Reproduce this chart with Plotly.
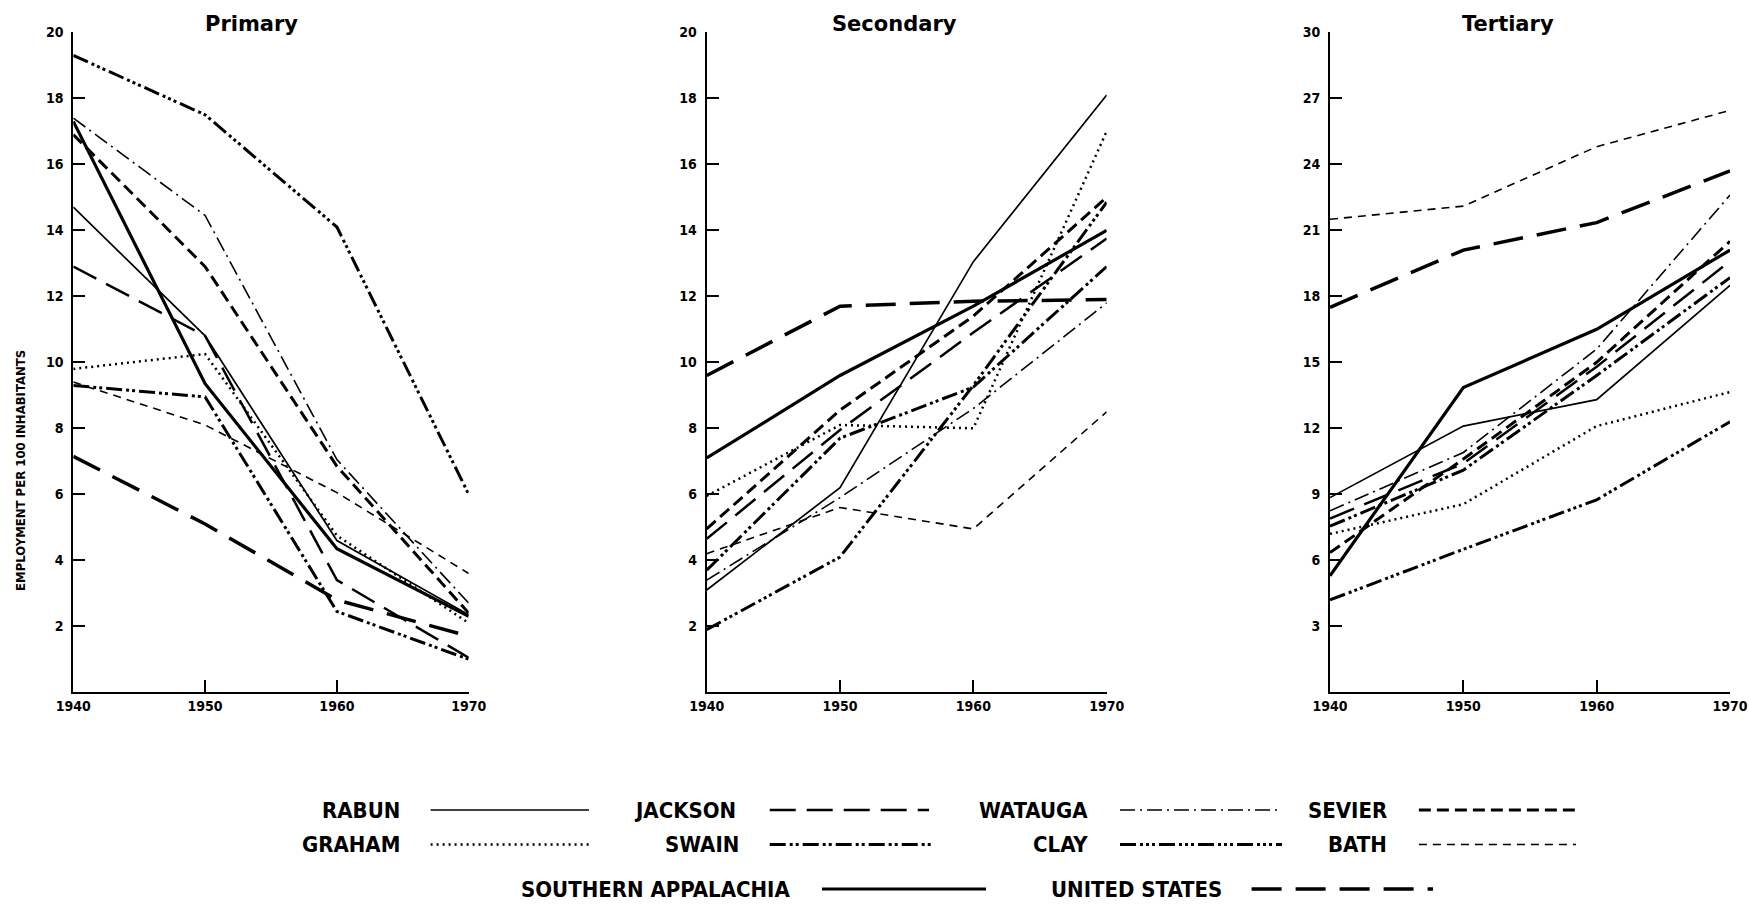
import plotly.graph_objects as go

# ---------------- data ----------------
years = [1940, 1950, 1960, 1970]
year_labels = ["1940", "1950", "1960", "1970"]

series_names = ["RABUN", "JACKSON", "WATAUGA", "SEVIER", "GRAHAM",
                "SWAIN", "CLAY", "BATH", "SOUTHERN APPALACHIA", "UNITED STATES"]

panel_titles = ["Primary", "Secondary", "Tertiary"]

# employment per 100 inhabitants, order follows series_names
primary_values = [
    [14.7, 10.8, 4.6, 2.35],    # RABUN
    [12.9, 10.8, 3.4, 1.05],    # JACKSON
    [17.4, 14.45, 7.05, 2.7],   # WATAUGA
    [16.9, 12.9, 6.85, 2.4],    # SEVIER
    [9.8, 10.25, 4.75, 2.1],    # GRAHAM
    [9.3, 8.95, 2.45, 1.0],     # SWAIN
    [19.3, 17.5, 14.1, 6.0],    # CLAY
    [9.4, 8.1, 6.05, 3.6],      # BATH
    [17.3, 9.35, 4.35, 2.3],    # SOUTHERN APPALACHIA
    [7.15, 5.1, 2.8, 1.7],      # UNITED STATES
]

secondary_values = [
    [3.1, 6.2, 13.05, 18.1],    # RABUN
    [4.65, 7.95, 10.9, 13.75],  # JACKSON
    [3.4, 5.9, 8.6, 11.8],      # WATAUGA
    [4.95, 8.55, 11.4, 15.0],   # SEVIER
    [5.95, 8.1, 8.0, 17.0],     # GRAHAM
    [3.7, 7.7, 9.25, 12.9],     # SWAIN
    [1.9, 4.1, 9.3, 14.85],     # CLAY
    [4.2, 5.6, 4.95, 8.5],      # BATH
    [7.1, 9.6, 11.7, 14.0],     # SOUTHERN APPALACHIA
    [9.6, 11.7, 11.85, 11.9],   # UNITED STATES
]

tertiary_values = [
    [8.85, 12.1, 13.3, 18.5],   # RABUN
    [7.9, 10.4, 14.8, 19.6],    # JACKSON
    [8.25, 10.9, 15.6, 22.6],   # WATAUGA
    [6.35, 10.6, 15.0, 20.5],   # SEVIER
    [7.2, 8.55, 12.1, 13.65],   # GRAHAM
    [7.55, 10.1, 14.4, 18.85],  # SWAIN
    [4.2, 6.5, 8.75, 12.3],     # CLAY
    [21.5, 22.1, 24.8, 26.45],  # BATH
    [5.3, 13.85, 16.5, 20.1],   # SOUTHERN APPALACHIA
    [17.5, 20.1, 21.35, 23.7],  # UNITED STATES
]

primary_ticks = [2, 4, 6, 8, 10, 12, 14, 16, 18, 20]
secondary_ticks = [2, 4, 6, 8, 10, 12, 14, 16, 18, 20]
tertiary_ticks = [3, 6, 9, 12, 15, 18, 21, 24, 27, 30]
panel_ranges = [[0, 20], [0, 20], [0, 30]]

# ---------------- styles ----------------
line_styles = [
    dict(width=1.7, dash="solid"),                                   # RABUN
    dict(width=2.5, dash="26px,11px"),                               # JACKSON
    dict(width=1.6, dash="15px,5px,2px,5px"),                        # WATAUGA
    dict(width=3.0, dash="12px,6px"),                                # SEVIER
    dict(width=2.5, dash="2px,4px"),                                 # GRAHAM
    dict(width=3.0, dash="16px,4px,3px,3px,3px,4px"),                # SWAIN
    dict(width=3.0, dash="16px,4px,3px,3px,3px,3px,3px,4px"),        # CLAY
    dict(width=1.6, dash="8px,6px"),                                 # BATH
    dict(width=3.2, dash="solid"),                                   # SOUTHERN APPALACHIA
    dict(width=3.5, dash="30px,14px"),                               # UNITED STATES
]

W, H = 1749, 906
def px(x):
    return x / W
def py(y):
    return 1 - y / H

x_domains = [[px(73.3), px(468.7)], [px(706.7), px(1106.7)], [px(1330), px(1730)]]
y_domain = [py(692.3), py(32.3)]
title_pos = [251.5, 894, 1508]

tick_font = dict(family="DejaVu Sans Condensed, DejaVu Sans", size=14, color="black", weight="bold")
label_font = dict(family="Liberation Sans Narrow, DejaVu Sans Condensed, DejaVu Sans",
                  size=22, color="black", weight="bold")

fig = go.Figure()

panels = [primary_values, secondary_values, tertiary_values]
panel_tick_lists = [primary_ticks, secondary_ticks, tertiary_ticks]

for p, values in enumerate(panels):
    xa = "x" if p == 0 else f"x{p+1}"
    ya = "y" if p == 0 else f"y{p+1}"
    for name, vals, st in zip(series_names, values, line_styles):
        fig.add_trace(go.Scatter(
            x=years, y=vals, mode="lines", name=name, showlegend=False,
            line=dict(color="black", width=st["width"], dash=st["dash"]),
            xaxis=xa, yaxis=ya, hoverinfo="x+y+name"))

layout = dict(
    width=W, height=H,
    margin=dict(l=0, r=0, t=0, b=0, autoexpand=False),
    paper_bgcolor="white", plot_bgcolor="white",
    showlegend=False,
)

for p in range(3):
    sx = "" if p == 0 else str(p + 1)
    layout["xaxis" + sx] = dict(
        domain=x_domains[p], range=[1940, 1970], anchor="y" + sx,
        tickvals=years, ticktext=year_labels,
        ticks="inside", ticklen=12, tickwidth=2, tickcolor="black",
        showline=True, linecolor="black", linewidth=2,
        showgrid=False, zeroline=False, tickfont=tick_font,
        ticklabeloverflow="allow",
        automargin=False, fixedrange=True,
    )
    layout["yaxis" + sx] = dict(
        domain=y_domain, range=panel_ranges[p], anchor="x" + sx,
        tickvals=panel_tick_lists[p], ticktext=[str(t) for t in panel_tick_lists[p]],
        ticks="inside", ticklen=12, tickwidth=2, tickcolor="black",
        showline=True, linecolor="black", linewidth=2,
        showgrid=False, zeroline=False, tickfont=tick_font,
        ticklabeloverflow="allow",
        ticklabelstandoff=5, automargin=False, fixedrange=True,
    )

annotations = []
shapes = []
for p, t in enumerate(panel_titles):
    annotations.append(dict(
        text=t, x=px(title_pos[p]), y=py(24), xref="paper", yref="paper",
        xanchor="center", yanchor="middle", showarrow=False,
        font=dict(family="DejaVu Sans", size=21, color="black", weight="bold")))

annotations.append(dict(
    text="EMPLOYMENT PER 100 INHABITANTS", x=px(20), y=py(471),
    xref="paper", yref="paper", xanchor="center", yanchor="middle",
    textangle=-90, showarrow=False,
    font=dict(family="Liberation Sans Narrow, DejaVu Sans Condensed, DejaVu Sans",
              size=13, color="black", weight="bold")))

# legend placement (label right edge, swatch start, swatch end, row y) in pixels
legend_slots = [
    (401.6, 430.6, 589, 810),     # RABUN
    (738, 769.7, 929, 810),       # JACKSON
    (1089.8, 1120, 1281, 810),    # WATAUGA
    (1388.8, 1418.9, 1580, 810),  # SEVIER
    (401.6, 430.6, 589, 844.5),   # GRAHAM
    (740.7, 769.7, 932, 844.5),   # SWAIN
    (1089.8, 1120, 1282, 844.5),  # CLAY
    (1388.8, 1418.9, 1576, 844.5),# BATH
    (792, 822, 986, 889),         # SOUTHERN APPALACHIA
    (1223.8, 1251.6, 1433, 889),  # UNITED STATES
]
for name, st, (lx, s0, s1, ry) in zip(series_names, line_styles, legend_slots):
    annotations.append(dict(
        text=name, x=px(lx), y=py(ry), xref="paper", yref="paper",
        xanchor="right", yanchor="middle", showarrow=False, font=label_font))
    shapes.append(dict(
        type="line", xref="paper", yref="paper",
        x0=px(s0), x1=px(s1), y0=py(ry), y1=py(ry),
        line=dict(color="black", width=st["width"], dash=st["dash"])))

layout["annotations"] = annotations
layout["shapes"] = shapes
fig.update_layout(**layout)

# remove the browser's default 8px page margin so the figure fills the window
fig.write_html("out.html",
               config={"displayModeBar": False},
               post_script="document.body.style.margin='0px';document.body.style.overflow='hidden';")
